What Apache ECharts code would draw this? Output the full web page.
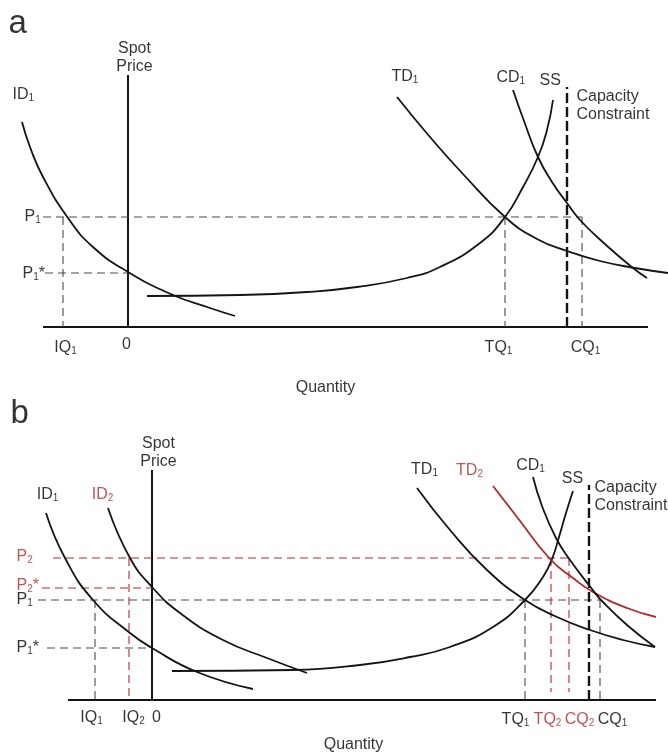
<!DOCTYPE html>
<html>
<head>
<meta charset="utf-8">
<script src="https://cdn.jsdelivr.net/npm/echarts@6/dist/echarts.min.js"></script>
<style>
html, body { margin: 0; padding: 0; background: #fff; }
#chart { width: 668px; height: 753px; }
</style>
</head>
<body>
<div id="chart"></div>
<script>
// quantity is measured from the spot-price axis (0), price from the quantity axis

// ---- panel a ----
var aID1 = [[-106, 205], [-98, 180], [-85, 150], [-60, 109], [-35, 80], [0, 55], [45, 32], [82, 19], [107, 11]]
var aSS = [[19, 31], [112, 32], [179, 35], [229, 40], [279, 49], [312, 60], [352, 84], [377, 110], [395, 140], [410, 170], [419, 197], [425, 227]]
var aTD1 = [[269, 230], [302, 190], [335, 153], [377, 110], [409, 88], [439, 76], [472, 66], [507, 59], [540, 54]]
var aCD1 = [[385, 237], [396, 206], [410, 170], [424, 145], [439, 124], [452, 107], [478, 82], [505, 59], [519, 49]]
var aAxis = { qMin: -85, qMax: 520, pTop: 252 }
var aCap = { q: 439, top: 240 }
var aPrices = { P1: 110, P1s: 54 }
var aQty = { IQ1: -65, TQ1: 377, CQ1: 454 }

// ---- panel b ----
var bID1 = [[-106, 187], [-87, 142], [-59, 100], [-22, 67], [0, 52], [45, 28], [101, 11]]
var bID2 = [[-44, 192], [-22, 142], [0, 113], [28, 87], [71, 60], [115, 42], [155, 27]]
var bSS = [[20, 29], [141, 30], [208, 35], [258, 43], [298, 53], [341, 73], [373, 100], [391, 123], [400, 141], [407, 163], [414, 187], [421, 209]]
var bTD1 = [[265, 212], [298, 170], [335, 130], [373, 100], [405, 83], [438, 70], [471, 60], [503, 53]]
var bTD2 = [[341, 214], [365, 183], [398, 141], [421, 122], [441, 108], [475, 92], [504, 83]]
var bCD1 = [[381, 223], [390, 194], [404, 162], [418, 140], [440, 111], [449, 100], [475, 75], [503, 53]]
var bAxis = { qMin: -84, qMax: 504, pTop: 230 }
var bCap = { q: 437, top: 215 }
var bPrices = { P2: 142, P2s: 112, P1: 100, P1s: 52 }
var bQty = { IQ1: -57, IQ2: -23, TQ1: 373, TQ2: 399, CQ2: 417, CQ1: 448 }

var BLACK = '#141414'
var RED = '#b3282a'
var GREY = '#4a4a4a'
var FONT = 'Liberation Sans, Arial, sans-serif'

var rich = {
  m: { fontSize: 16, color: '#000', lineHeight: 18, fontFamily: FONT },
  s: { fontSize: 10, color: '#000', lineHeight: 11, verticalAlign: 'bottom', fontFamily: FONT },
  mr: { fontSize: 16, color: RED, lineHeight: 18, fontFamily: FONT },
  sr: { fontSize: 10, color: RED, lineHeight: 11, verticalAlign: 'bottom', fontFamily: FONT },
  big: { fontSize: 33, color: '#000', lineHeight: 36, fontFamily: FONT }
}

function curve(data, color, g) {
  return {
    type: 'line', xAxisIndex: g, yAxisIndex: g, data: data, smooth: true,
    symbol: 'none', silent: true, lineStyle: { color: color, width: 1.8 }
  }
}
function seg(p1, p2, g, color, width, dash) {
  return {
    type: 'line', xAxisIndex: g, yAxisIndex: g, data: [p1, p2], symbol: 'none', silent: true,
    lineStyle: { color: color, width: width, type: dash || 'solid' }
  }
}
function guide(p1, p2, g, color) {
  return seg(p1, p2, g, color || GREY, 1.1, [8, 5])
}
function lab(x, y, text, align) {
  return { value: [x, y], label: { formatter: text, align: align || 'center' } }
}
function labels(items, g) {
  return {
    type: 'scatter', xAxisIndex: g, yAxisIndex: g, symbolSize: 1, silent: true,
    itemStyle: { color: 'rgba(0,0,0,0)' },
    label: { show: true, position: [0, 0], verticalAlign: 'middle', rich: rich },
    data: items
  }
}

var series = [
  // panel a
  seg([aAxis.qMin, 0], [aAxis.qMax, 0], 0, BLACK, 2),
  seg([0, 0], [0, aAxis.pTop], 0, BLACK, 2),
  guide([-85, aPrices.P1], [aQty.CQ1, aPrices.P1], 0),
  guide([-83, aPrices.P1s], [0, aPrices.P1s], 0),
  guide([aQty.IQ1, aPrices.P1], [aQty.IQ1, 0], 0),
  guide([aQty.TQ1, aPrices.P1], [aQty.TQ1, 0], 0),
  guide([aQty.CQ1, aPrices.P1], [aQty.CQ1, 0], 0),
  seg([aCap.q, 0], [aCap.q, aCap.top], 0, BLACK, 2.4, [10, 4]),
  curve(aID1, BLACK, 0),
  curve(aSS, BLACK, 0),
  curve(aTD1, BLACK, 0),
  curve(aCD1, BLACK, 0),
  labels([
    lab(-119, 303, '{big|a}', 'left'),
    lab(7, 269, '{m|Spot}\n{m|Price}'),
    lab(-115, 232, '{m|ID}{s|1}', 'left'),
    lab(264, 250, '{m|TD}{s|1}', 'left'),
    lab(369, 249, '{m|CD}{s|1}', 'left'),
    lab(412, 246, '{m|SS}', 'left'),
    lab(449, 221, '{m|Capacity}\n{m|Constraint}', 'left'),
    lab(-103, 110, '{m|P}{s|1}', 'left'),
    lab(-105, 53, '{m|P}{s|1}{m|*}', 'left'),
    lab(-62, -21, '{m|IQ}{s|1}'),
    lab(-1, -18, '{m|0}'),
    lab(371, -21, '{m|TQ}{s|1}'),
    lab(458, -21, '{m|CQ}{s|1}'),
    lab(198, -61, '{m|Quantity}')
  ], 0),

  // panel b
  seg([bAxis.qMin, 0], [bAxis.qMax, 0], 1, BLACK, 2),
  seg([0, 0], [0, bAxis.pTop], 1, BLACK, 2),
  guide([-99, bPrices.P2], [bQty.CQ2, bPrices.P2], 1, RED),
  guide([-110, bPrices.P2s], [0, bPrices.P2s], 1, RED),
  guide([-114, bPrices.P1], [bQty.CQ1, bPrices.P1], 1),
  guide([-105, bPrices.P1s], [0, bPrices.P1s], 1),
  guide([bQty.IQ1, bPrices.P1], [bQty.IQ1, 0], 1),
  guide([bQty.IQ2, bPrices.P2], [bQty.IQ2, 0], 1, RED),
  guide([bQty.TQ1, bPrices.P1], [bQty.TQ1, 0], 1),
  guide([bQty.TQ2, bPrices.P2], [bQty.TQ2, 8], 1, RED),
  guide([bQty.CQ2, bPrices.P2], [bQty.CQ2, 8], 1, RED),
  guide([bQty.CQ1, bPrices.P1], [bQty.CQ1, 0], 1),
  seg([bCap.q, 0], [bCap.q, bCap.top], 1, BLACK, 2.4, [10, 4]),
  curve(bID1, BLACK, 1),
  curve(bID2, BLACK, 1),
  curve(bSS, BLACK, 1),
  curve(bTD1, BLACK, 1),
  curve(bTD2, RED, 1),
  curve(bCD1, BLACK, 1),
  labels([
    lab(-141, 286, '{big|b}', 'left'),
    lab(7, 247, '{m|Spot}\n{m|Price}'),
    lab(-104, 205, '{m|ID}{s|1}'),
    lab(-49, 205, '{mr|ID}{sr|2}'),
    lab(273, 230, '{m|TD}{s|1}'),
    lab(318, 229, '{mr|TD}{sr|2}'),
    lab(379, 234, '{m|CD}{s|1}'),
    lab(421, 221, '{m|SS}'),
    lab(443, 203, '{m|Capacity}\n{m|Constraint}', 'left'),
    lab(-135, 143, '{mr|P}{sr|2}', 'left'),
    lab(-135, 114, '{mr|P}{sr|2}{mr|*}', 'left'),
    lab(-135, 100, '{m|P}{s|1}', 'left'),
    lab(-135, 52, '{m|P}{s|1}{m|*}', 'left'),
    lab(-60, -18, '{m|IQ}{s|1}'),
    lab(-18, -18, '{m|IQ}{s|2}'),
    lab(5, -18, '{m|0}'),
    lab(364, -20, '{m|TQ}{s|1}'),
    lab(396, -20, '{mr|TQ}{sr|2}'),
    lab(428, -20, '{mr|CQ}{sr|2}'),
    lab(461, -20, '{m|CQ}{s|1}'),
    lab(202, -45, '{m|Quantity}')
  ], 1)
]

var myChart = echarts.init(document.getElementById('chart'))
var option = {
  animation: false,
  backgroundColor: '#fff',
  grid: [
    { left: 0, top: 0, width: 668, height: 400 },
    { left: 0, top: 400, width: 668, height: 353 }
  ],
  xAxis: [
    { type: 'value', gridIndex: 0, min: -128, max: 540, show: false },
    { type: 'value', gridIndex: 1, min: -152, max: 516, show: false }
  ],
  yAxis: [
    { type: 'value', gridIndex: 0, min: -73, max: 327, show: false },
    { type: 'value', gridIndex: 1, min: -53, max: 300, show: false }
  ],
  series: series
}
option && myChart.setOption(option)
</script>
</body>
</html>
